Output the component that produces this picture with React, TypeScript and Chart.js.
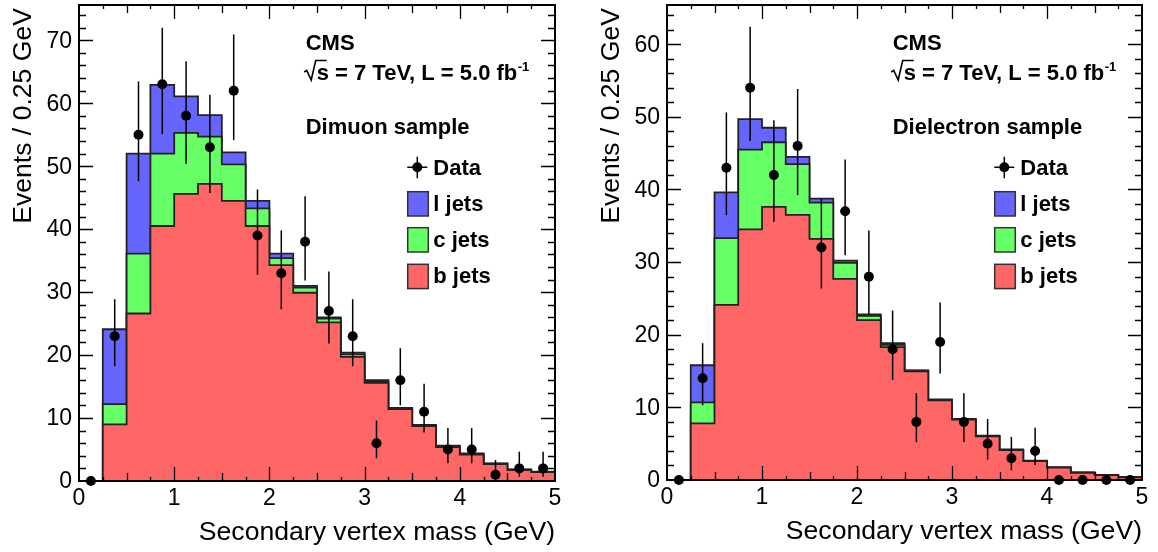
import React, { useEffect, useRef } from 'react';
import { Chart, registerables } from 'chart.js';
Chart.register(...registerables);

// ---------- data ----------
const BIN_EDGES = [0, 0.25, 0.5, 0.75, 1, 1.25, 1.5, 1.75, 2, 2.25, 2.5, 2.75, 3, 3.25, 3.5, 3.75, 4, 4.25, 4.5, 4.75, 5];
const X_TICK_VALUES = [0, 1, 2, 3, 4, 5];
const X_TICK_LABELS = ['0', '1', '2', '3', '4', '5'];

// Dimuon sample (events / 0.25 GeV)
const DIMUON_B = [0, 9.0, 26.6, 40.5, 45.6, 47.2, 44.5, 40.5, 34.3, 29.9, 25.2, 19.7, 15.6, 11.4, 8.7, 5.4, 4.2, 2.7, 1.75, 1.4];
const DIMUON_C = [0, 3.2, 9.5, 11.5, 9.7, 7.5, 5.8, 2.8, 1.1, 0.8, 0.6, 0.4, 0.25, 0.1, 0.1, 0.1, 0.1, 0.05, 0.05, 0.05];
const DIMUON_L = [0, 11.9, 15.9, 10.9, 5.8, 3.4, 1.9, 1.2, 0.7, 0.3, 0.2, 0.3, 0.15, 0.1, 0.1, 0.1, 0.1, 0.05, 0.05, 0.05];
const DIMUON_DATA = [0, 23, 55, 63, 58, 53, 62, 39, 33, 38, 27, 23, 6, 16, 11, 5, 5, 1, 2, 2];
const DIMUON_Y_TICKS = [0, 10, 20, 30, 40, 50, 60, 70];

// Dielectron sample (events / 0.25 GeV)
const DIELEC_B = [0, 7.8, 24.1, 34.5, 37.6, 36.5, 33.2, 27.7, 22.0, 18.3, 14.95, 10.95, 8.3, 6.0, 4.1, 2.6, 1.7, 1.0, 0.67, 0.38];
const DIELEC_C = [0, 2.9, 9.2, 11.0, 8.9, 7.0, 5.0, 2.2, 0.6, 0.3, 0.1, 0.05, 0.05, 0.05, 0.05, 0.02, 0.02, 0.02, 0.02, 0.01];
const DIELEC_L = [0, 5.1, 6.3, 4.2, 2.0, 1.0, 0.55, 0.3, 0.2, 0.25, 0.05, 0.1, 0.05, 0.05, 0.05, 0.03, 0.03, 0.03, 0.01, 0.01];
const DIELEC_DATA = [0, 14, 43, 54, 42, 46, 32, 37, 28, 18, 8, 19, 8, 5, 3, 4, 0, 0, 0, 0];
const DIELEC_Y_TICKS = [0, 10, 20, 30, 40, 50, 60];

const LEGEND_LABELS = ['Data', 'l jets', 'c jets', 'b jets'];
const COLORS = { l: '#6666ff', c: '#66ff66', b: '#ff6666' };
const FONT = '"Liberation Sans", Arial, Helvetica, sans-serif';

type PanelCfg = {
  sample: string;
  b: number[];
  c: number[];
  l: number[];
  data: number[];
  yMax: number;
  yTicks: number[];
  pad: { left: number; right: number; top: number; bottom: number };
};

const PANELS: PanelCfg[] = [
  { sample: 'Dimuon sample', b: DIMUON_B, c: DIMUON_C, l: DIMUON_L, data: DIMUON_DATA, yMax: 75.6, yTicks: DIMUON_Y_TICKS, pad: { left: 79, right: 24, top: 4, bottom: 71 } },
  { sample: 'Dielectron sample', b: DIELEC_B, c: DIELEC_C, l: DIELEC_L, data: DIELEC_DATA, yMax: 65.4, yTicks: DIELEC_Y_TICKS, pad: { left: 88, right: 16, top: 5, bottom: 72 } },
];

function poissonUp(n: number) { return n > 0 ? Math.sqrt(n + 0.75) + 1 : 0; }
function poissonDown(n: number) { return n > 0 ? Math.sqrt(n - 0.25) : 0; }

function makeChart(canvas: HTMLCanvasElement, cfg: PanelCfg) {
  const red = cfg.b.slice();
  const green = cfg.b.map((v, i) => v + cfg.c[i]);
  const blue = green.map((v, i) => v + cfg.l[i]);
  const step = (vals: number[]) => BIN_EDGES.map((x, i) => ({ x, y: vals[Math.min(i, vals.length - 1)] }));
  const centers = BIN_EDGES.slice(0, -1).map((e, i) => (e + BIN_EDGES[i + 1]) / 2);
  const pts = cfg.data.map((n, i) => ({ x: centers[i], y: n }));

  const histDs = (vals: number[], color: string) => ({
    type: 'line' as const,
    data: step(vals),
    stepped: true,
    fill: 'origin',
    backgroundColor: color,
    borderColor: '#222',
    borderWidth: 1.8,
    pointRadius: 0,
    tension: 0,
  });

  const decor = {
    id: 'decor',
    afterDatasetsDraw(chart: any) {
      const ctx = chart.ctx;
      const xs = chart.scales.x, ys = chart.scales.y;
      ctx.save();
      ctx.strokeStyle = '#000';
      ctx.lineWidth = 1.5;
      cfg.data.forEach((n, i) => {
        if (n <= 0) return;
        const px = xs.getPixelForValue(centers[i]);
        ctx.beginPath();
        ctx.moveTo(px, ys.getPixelForValue(n - poissonDown(n)));
        ctx.lineTo(px, ys.getPixelForValue(n + poissonUp(n)));
        ctx.stroke();
      });
      ctx.restore();
    },
    afterDraw(chart: any) {
      const ctx = chart.ctx;
      const a = chart.chartArea;
      const xs = chart.scales.x, ys = chart.scales.y;
      ctx.save();
      // ticks
      ctx.strokeStyle = '#000';
      ctx.lineWidth = 1.3;
      for (let k = 1; k < 20; k++) {
        const v = k * 0.25;
        const len = k % 4 === 0 ? 14 : k % 2 === 0 ? 8 : 4;
        const px = Math.round(xs.getPixelForValue(v)) + 0.5;
        ctx.beginPath();
        ctx.moveTo(px, a.bottom); ctx.lineTo(px, a.bottom - len);
        ctx.moveTo(px, a.top); ctx.lineTo(px, a.top + len);
        ctx.stroke();
      }
      for (let k = 1; 2 * k < cfg.yMax; k++) {
        const v = 2 * k;
        const len = v % 10 === 0 ? 14 : 7;
        const py = Math.round(ys.getPixelForValue(v)) + 0.5;
        ctx.beginPath();
        ctx.moveTo(a.left, py); ctx.lineTo(a.left + len, py);
        ctx.moveTo(a.right, py); ctx.lineTo(a.right - len, py);
        ctx.stroke();
      }
      // frame
      ctx.lineWidth = 2;
      ctx.strokeRect(a.left, a.top, a.right - a.left, a.bottom - a.top);

      // tick labels
      ctx.fillStyle = '#000';
      ctx.font = `23px ${FONT}`;
      ctx.textAlign = 'right';
      ctx.textBaseline = 'middle';
      cfg.yTicks.forEach((v) => ctx.fillText(String(v), a.left - 7, ys.getPixelForValue(v) + 1));
      ctx.textAlign = 'center';
      ctx.textBaseline = 'alphabetic';
      X_TICK_VALUES.forEach((v, i) => ctx.fillText(X_TICK_LABELS[i], xs.getPixelForValue(v), a.bottom + 24));

      // axis titles
      ctx.font = `26.6px ${FONT}`;
      ctx.textAlign = 'right';
      ctx.fillText('Secondary vertex mass (GeV)', a.right, a.bottom + 58.5);
      ctx.save();
      ctx.translate(a.left - 48, a.top + 3);
      ctx.rotate(-Math.PI / 2);
      ctx.fillText('Events / 0.25 GeV', 0, 0);
      ctx.restore();

      // CMS text block
      const tx = a.right - 249.3;
      ctx.textAlign = 'left';
      ctx.font = `bold 22px ${FONT}`;
      ctx.fillText('CMS', tx, 50);
      const bl = 80;
      ctx.lineWidth = 1.6;
      ctx.beginPath();
      ctx.moveTo(tx - 1.5, bl - 8);
      ctx.lineTo(tx + 1, bl - 9.5);
      ctx.lineTo(tx + 5.5, bl);
      ctx.lineTo(tx + 10, bl - 19.5);
      ctx.lineTo(tx + 21, bl - 19.5);
      ctx.stroke();
      const rest = 's = 7 TeV, L = 5.0 fb';
      ctx.fillText(rest, tx + 11, bl);
      const w = ctx.measureText(rest).width;
      ctx.font = `bold 13px ${FONT}`;
      ctx.fillText('-1', tx + 11 + w + 0.5, bl - 9);
      ctx.font = `bold 22px ${FONT}`;
      ctx.fillText(cfg.sample, tx, 133.5);

      // legend
      const mx = a.right - 137.7;
      const my = 167.3;
      ctx.lineWidth = 1.5;
      ctx.beginPath();
      ctx.moveTo(mx - 10, my); ctx.lineTo(mx + 10, my);
      ctx.moveTo(mx, my - 10.5); ctx.lineTo(mx, my + 11);
      ctx.stroke();
      ctx.beginPath();
      ctx.arc(mx, my, 5, 0, Math.PI * 2);
      ctx.fill();
      const txL = a.right - 121.7;
      ctx.fillText(LEGEND_LABELS[0], txL, 175);
      const boxColors = [COLORS.l, COLORS.c, COLORS.b];
      const boxTops = [191.7, 227.7, 264.3];
      const baselines = [211, 247, 283];
      boxColors.forEach((col, i) => {
        ctx.fillStyle = col;
        ctx.fillRect(a.right - 147.3, boxTops[i], 20.6, 24.3);
        ctx.strokeStyle = '#333';
        ctx.strokeRect(a.right - 147.3, boxTops[i], 20.6, 24.3);
        ctx.fillStyle = '#000';
        ctx.fillText(LEGEND_LABELS[i + 1], txL, baselines[i]);
      });
      ctx.restore();
    },
  };

  return new Chart(canvas, {
    type: 'line',
    data: {
      datasets: [
        {
          type: 'scatter' as const,
          data: pts,
          pointRadius: 5,
          pointBackgroundColor: '#000',
          pointBorderColor: '#000',
          pointBorderWidth: 0,
          showLine: false,
          clip: false,
        } as any,
        histDs(red, COLORS.b) as any,
        histDs(green, COLORS.c) as any,
        histDs(blue, COLORS.l) as any,
      ],
    },
    options: {
      animation: false,
      responsive: false,
      devicePixelRatio: 1,
      layout: { padding: cfg.pad },
      plugins: { legend: { display: false }, tooltip: { enabled: false } },
      events: [],
      scales: {
        x: { type: 'linear', min: 0, max: 5, display: false },
        y: { type: 'linear', min: 0, max: cfg.yMax, display: false },
      },
    },
    plugins: [decor],
  } as any);
}

function Panel({ cfg, left }: { cfg: PanelCfg; left: number }) {
  const ref = useRef<HTMLCanvasElement>(null);
  useEffect(() => {
    if (!ref.current) return;
    const ch = makeChart(ref.current, cfg);
    return () => ch.destroy();
  }, [cfg]);
  return (
    <div style={{ position: 'absolute', left, top: 0, width: 579, height: 552 }}>
      <canvas ref={ref} width={579} height={552} style={{ width: 579, height: 552, display: 'block' }} />
    </div>
  );
}

export default function App() {
  return (
    <div style={{ position: 'fixed', left: 0, top: 0, width: 1158, height: 552, background: '#fff' }}>
      <Panel cfg={PANELS[0]} left={0} />
      <Panel cfg={PANELS[1]} left={579} />
    </div>
  );
}
